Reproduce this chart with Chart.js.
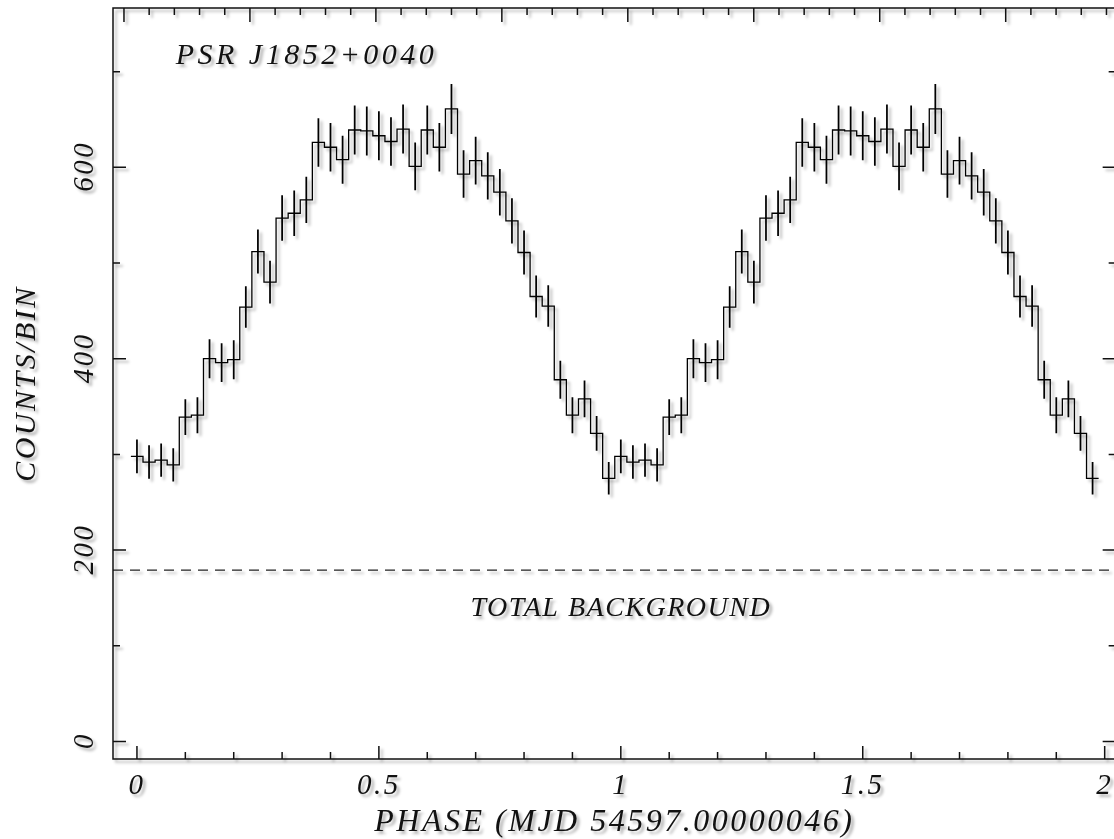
<!DOCTYPE html>
<html>
<head>
<meta charset="utf-8">
<script src="https://cdn.jsdelivr.net/npm/chart.js@4.4.1/dist/chart.umd.min.js"></script>
<style>
html,body{margin:0;padding:0;background:#fff;overflow:hidden;width:1114px;height:839px}
canvas{display:block}
</style>
</head>
<body>
<canvas id="c" width="1122" height="839"></canvas>
<script>
// ---- data (one pulse cycle, 40 phase bins; the plot shows two cycles) ----
const phases = [0, 0.025, 0.05, 0.075, 0.1, 0.125, 0.15, 0.175, 0.2, 0.225,
  0.25, 0.275, 0.3, 0.325, 0.35, 0.375, 0.4, 0.425, 0.45, 0.475,
  0.5, 0.525, 0.55, 0.575, 0.6, 0.625, 0.65, 0.675, 0.7, 0.725,
  0.75, 0.775, 0.8, 0.825, 0.85, 0.875, 0.9, 0.925, 0.95, 0.975];
const counts = [298, 292, 294, 289, 339, 341, 400, 396, 399, 454,
  512, 480, 547, 552, 566, 626, 621, 608, 639, 638,
  633, 627, 640, 601, 639, 621, 661, 593, 607, 591,
  574, 544, 511, 465, 455, 378, 341, 358, 322, 275];
const errors = [17.3, 17.1, 17.1, 17.0, 18.4, 18.5, 20.0, 19.9, 20.0, 21.3,
  22.6, 21.9, 23.4, 23.5, 23.8, 25.0, 24.9, 24.7, 25.3, 25.3,
  25.2, 25.0, 25.3, 24.5, 25.3, 24.9, 25.7, 24.4, 24.6, 24.3,
  24.0, 23.3, 22.6, 21.6, 21.3, 19.4, 18.5, 18.9, 17.9, 16.6];
const cycles = [0, 1];
const background = 179;
const xTickValues = [0, 0.5, 1, 1.5, 2];
const xTickLabels = ['0', '0.5', '1', '1.5', '2'];
const yTickValues = [0, 200, 400, 600];
const yTickLabels = ['0', '200', '400', '600'];
const sourceName = 'PSR J1852+0040';
const backgroundLabel = 'TOTAL BACKGROUND';
const xTitle = 'PHASE (MJD 54597.00000046)';
const yTitle = 'COUNTS/BIN';

// ---- axis ranges / geometry ----
const X_MIN = -0.0495, X_MAX = 2.0227;
const Y_MIN = -18.3, Y_MAX = 766.5;
const TOP_MIN = -0.0871, TOP_MAX = 7.873;
const HALF_BIN = 0.0125;
const FONT = '"Liberation Serif", "Times New Roman", serif';

// ---- build datasets ----
const stepPoints = [];
const errorBars = [];
cycles.forEach(c => {
  phases.forEach((p, i) => {
    stepPoints.push({x: p + c - HALF_BIN, y: counts[i]});
    errorBars.push({x: p + c, y: [counts[i] - errors[i], counts[i] + errors[i]]});
  });
});
const lastI = phases.length - 1;
stepPoints.push({x: phases[lastI] + cycles[cycles.length - 1] + HALF_BIN, y: counts[lastI]});
const bgLine = [{x: X_MIN, y: background}, {x: X_MAX, y: background}];

const framePlugin = {
  id: 'frame',
  beforeDraw(chart) {
    const ctx = chart.ctx;
    ctx.save();
    ctx.fillStyle = '#fff';
    ctx.fillRect(0, 0, chart.width, chart.height);
    ctx.restore();
    ctx.shadowColor = 'rgba(0,0,0,0.30)';
    ctx.shadowBlur = 3;
    ctx.shadowOffsetX = 3;
    ctx.shadowOffsetY = 3;
    ctx.letterSpacing = '2.5px';
  },
  afterDraw(chart) {
    const ctx = chart.ctx;
    const a = chart.chartArea;
    const xs = chart.scales.x, ys = chart.scales.y, xt = chart.scales.xTop;
    ctx.save();
    ctx.strokeStyle = '#111';
    ctx.lineWidth = 1.5;
    ctx.strokeRect(a.left, a.top, a.right - a.left, a.bottom - a.top);
    ctx.beginPath();
    // bottom axis ticks (phase): major every 0.5, minor every 0.1
    for (let k = 0; k <= 20; k++) {
      const v = k / 10;
      const px = xs.getPixelForValue(v);
      const len = (k % 5 === 0) ? 13 : 7;
      ctx.moveTo(px, a.bottom); ctx.lineTo(px, a.bottom - len);
    }
    // top axis ticks
    for (let k = 0; k <= 40; k++) {
      const v = k / 5;
      if (v > TOP_MAX) break;
      const px = xt.getPixelForValue(v);
      const len = (k % 5 === 0) ? 14 : 7;
      ctx.moveTo(px, a.top); ctx.lineTo(px, a.top + len);
    }
    // y ticks left/right
    for (let k = 0; k <= 7; k++) {
      const v = k * 100;
      const py = ys.getPixelForValue(v);
      const len = (k % 2 === 0) ? 13 : 7;
      ctx.moveTo(a.left, py); ctx.lineTo(a.left + len, py);
      ctx.moveTo(a.right, py); ctx.lineTo(a.right - len, py);
    }
    ctx.stroke();

    // rotated y tick labels
    ctx.fillStyle = '#111';
    ctx.font = 'italic 29px ' + FONT;
    ctx.textAlign = 'center';
    ctx.textBaseline = 'middle';
    ctx.letterSpacing = '2.5px';
    yTickValues.forEach((v, i) => {
      const py = ys.getPixelForValue(v);
      ctx.save();
      ctx.translate(85, py);
      ctx.rotate(-Math.PI / 2);
      ctx.fillText(yTickLabels[i], 1, 0);
      ctx.restore();
    });

    // annotations
    ctx.textBaseline = 'alphabetic';
    ctx.textAlign = 'left';
    ctx.font = 'italic 30px ' + FONT;
    ctx.letterSpacing = '3.5px';
    ctx.fillText(sourceName, xs.getPixelForValue(0.08), ys.getPixelForValue(708));
    ctx.textAlign = 'center';
    ctx.font = 'italic 28px ' + FONT;
    ctx.letterSpacing = '1.5px';
    ctx.fillText(backgroundLabel, xs.getPixelForValue(1.0), ys.getPixelForValue(131));
    ctx.restore();
  }
};

new Chart(document.getElementById('c'), {
  type: 'line',
  data: {
    datasets: [
      {type: 'line', data: stepPoints, stepped: 'before', borderColor: '#000', borderWidth: 1.3,
       pointRadius: 0, fill: false, xAxisID: 'x', yAxisID: 'y'},
      {type: 'bar', data: errorBars, backgroundColor: '#000', borderWidth: 0, barThickness: 1.1,
       xAxisID: 'x', yAxisID: 'y'},
      {type: 'line', data: bgLine, borderColor: '#222', borderWidth: 1.3, borderDash: [10, 7],
       pointRadius: 0, fill: false, xAxisID: 'x', yAxisID: 'y'}
    ]
  },
  options: {
    responsive: false,
    animation: false,
    events: [],
    layout: {padding: {left: 0, top: 0, right: 4, bottom: 0}},
    plugins: {legend: {display: false}, tooltip: {enabled: false}},
    scales: {
      x: {
        type: 'linear', position: 'bottom', min: X_MIN, max: X_MAX, offset: false,
        grid: {display: false, drawTicks: false}, border: {display: false},
        ticks: {
          stepSize: 0.5, includeBounds: false, autoSkip: false, maxRotation: 0, minRotation: 0,
          padding: 10, color: '#111', font: {family: FONT, style: 'italic', size: 29},
          callback: (v) => { const i = xTickValues.indexOf(v); return i >= 0 ? xTickLabels[i] : ''; }
        },
        title: {display: true, text: xTitle, color: '#111',
                font: {family: FONT, style: 'italic', size: 32, lineHeight: 1.0}, padding: {top: 0, bottom: 0}},
        afterFit(s) { s.height = 80; }
      },
      xTop: {
        type: 'linear', position: 'top', min: TOP_MIN, max: TOP_MAX, offset: false,
        grid: {display: false, drawTicks: false}, border: {display: false}, ticks: {display: false},
        afterFit(s) { s.height = 8; }
      },
      y: {
        type: 'linear', position: 'left', min: Y_MIN, max: Y_MAX,
        grid: {display: false, drawTicks: false}, border: {display: false}, ticks: {display: false},
        title: {display: true, text: yTitle, color: '#111',
                font: {family: FONT, style: 'italic', size: 30}, padding: {top: 9, bottom: 0}},
        afterFit(s) { s.width = 113; }
      }
    }
  },
  plugins: [framePlugin]
});
</script>
</body>
</html>
